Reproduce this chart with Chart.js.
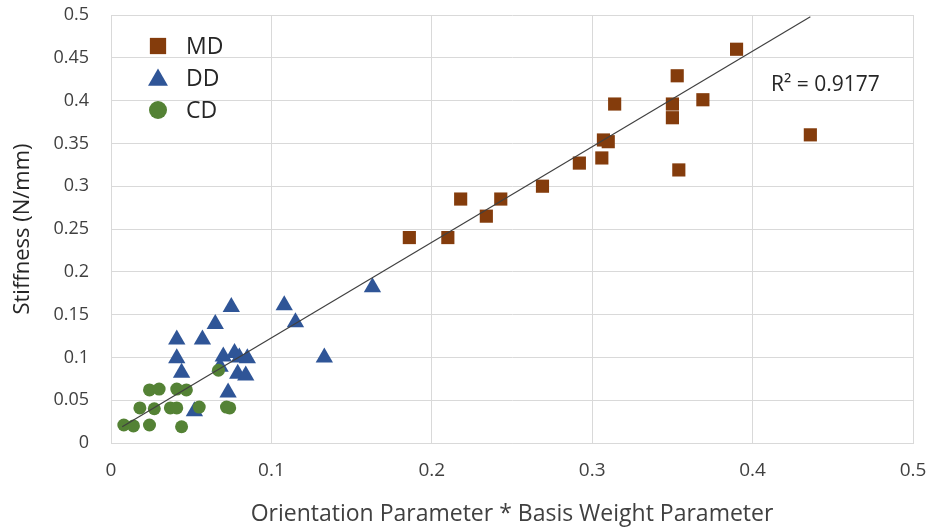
<!DOCTYPE html>
<html>
<head>
<meta charset="utf-8">
<script src="https://cdn.jsdelivr.net/npm/chart.js@4/dist/chart.umd.min.js"></script>
<style>
    html, body { margin: 0; padding: 0; background: #fff; }
    #wrap { width: 935px; height: 529px; position: relative; }
</style>
</head>
<body>
<div id="wrap"><canvas id="stiffnessChart"></canvas></div>
<script>
// Values
const mdX = [0.186, 0.210, 0.218, 0.234, 0.243, 0.269, 0.292, 0.306, 0.307, 0.310, 0.314, 0.350, 0.350, 0.353, 0.369, 0.354, 0.390, 0.436];
const mdY = [0.240, 0.240, 0.285, 0.265, 0.285, 0.300, 0.327, 0.333, 0.354, 0.352, 0.396, 0.396, 0.380, 0.429, 0.401, 0.319, 0.460, 0.360];

const ddX = [0.163, 0.075, 0.108, 0.065, 0.115, 0.041, 0.057, 0.041, 0.070, 0.077, 0.080, 0.085, 0.133, 0.044, 0.079, 0.084, 0.068, 0.073, 0.052];
const ddY = [0.182, 0.159, 0.161, 0.139, 0.141, 0.121, 0.121, 0.099, 0.101, 0.105, 0.100, 0.099, 0.100, 0.082, 0.081, 0.079, 0.089, 0.059, 0.037];

const cdX = [0.067, 0.024, 0.030, 0.041, 0.047, 0.018, 0.027, 0.037, 0.041, 0.055, 0.072, 0.074, 0.008, 0.014, 0.024, 0.044];
const cdY = [0.085, 0.062, 0.063, 0.063, 0.062, 0.041, 0.040, 0.041, 0.041, 0.042, 0.042, 0.041, 0.021, 0.020, 0.021, 0.019];

// linear trendline end points and its label
const trendX = [0.007, 0.436];
const trendY = [0.019, 0.498];
const rSquared = 'R\u00B2 = 0.9177';

const xTicks = [0, 0.1, 0.2, 0.3, 0.4, 0.5];
const yTicks = [0, 0.05, 0.1, 0.15, 0.2, 0.25, 0.3, 0.35, 0.4, 0.45, 0.5];

const FONT = "'Open Sans', sans-serif";
const TEXT = '#404040';
const colors = { md: '#843c0c', dd: '#2f5597', cd: '#548235' };

function toPoints(xs, ys) {
    return xs.map((x, i) => ({ x: x, y: ys[i] }));
}

const series = [
    { label: 'MD', color: colors.md, style: 'rect', radius: 9.3, legendRadius: 11.5 },
    { label: 'DD', color: colors.dd, style: 'triangle', radius: 10, legendRadius: 11.5 },
    { label: 'CD', color: colors.cd, style: 'circle', radius: 6.5, legendRadius: 9 }
];

// legend + R² text drawn inside the plot area
const overlayPlugin = {
    id: 'overlay',
    afterDraw(chart) {
        const ctx = chart.ctx;
        const area = chart.chartArea;
        ctx.save();
        series.forEach((s, i) => {
            const y = area.top + 31 + i * 32;
            ctx.fillStyle = s.color;
            ctx.strokeStyle = s.color;
            Chart.helpers.drawPoint(ctx, { pointStyle: s.style, radius: s.legendRadius, rotation: 0, borderWidth: 0 }, area.left + 47, y + (s.style === 'triangle' ? 2 : 0));
            ctx.fillStyle = '#262626';
            ctx.font = '23px ' + FONT;
            ctx.textBaseline = 'middle';
            ctx.textAlign = 'left';
            ctx.fillText(s.label, area.left + 75, y + 1);
        });
        const xs = chart.scales.x, ys = chart.scales.y;
        ctx.fillStyle = '#262626';
        ctx.font = '21px ' + FONT;
        ctx.textBaseline = 'middle';
        ctx.fillText(rSquared, xs.getPixelForValue(0.4115), ys.getPixelForValue(0.418));
        ctx.restore();
    }
};

const ctx = document.getElementById('stiffnessChart').getContext('2d');
const stiffnessChart = new Chart(ctx, {
    type: 'scatter',
    data: {
        datasets: [
            ...series.map((s, i) => ({
                label: s.label,
                data: toPoints([mdX, ddX, cdX][i], [mdY, ddY, cdY][i]),
                pointStyle: s.style,
                pointRadius: s.radius,
                pointHoverRadius: s.radius,
                backgroundColor: s.color,
                borderColor: s.color,
                borderWidth: 0,
                order: 4 - i
            })),
            {
                label: 'Linear',
                type: 'line',
                data: toPoints(trendX, trendY),
                borderColor: '#404040',
                borderWidth: 1.2,
                pointRadius: 0,
                fill: false,
                order: 1
            }
        ]
    },
    options: {
        responsive: true,
        maintainAspectRatio: false,
        animation: false,
        layout: { padding: { top: 15, right: 22, left: 0, bottom: 0 } },
        plugins: {
            legend: { display: false },
            tooltip: { enabled: false }
        },
        scales: {
            x: {
                type: 'linear',
                min: 0,
                max: 0.5,
                afterBuildTicks: (axis) => { axis.ticks = xTicks.map(v => ({ value: v })); },
                afterFit: (axis) => {
                    axis.height = 529 - 443;
                    axis.paddingLeft = 0;
                    axis.paddingRight = 0;
                },
                grid: { color: '#d9d9d9', lineWidth: 1, drawTicks: false },
                border: { color: '#d9d9d9' },
                ticks: {
                    color: TEXT,
                    font: { family: FONT, size: 19 },
                    padding: 16,
                    callback: (v) => String(v)
                },
                title: {
                    display: true,
                    text: 'Orientation Parameter * Basis Weight Parameter',
                    color: TEXT,
                    font: { family: FONT, size: 23 },
                    padding: { top: 0, bottom: 1 }
                }
            },
            y: {
                type: 'linear',
                min: 0,
                max: 0.5,
                afterBuildTicks: (axis) => { axis.ticks = yTicks.map(v => ({ value: v })); },
                afterFit: (axis) => {
                    axis.width = 111;
                    axis.paddingTop = 0;
                    axis.paddingBottom = 0;
                },
                grid: { color: '#d9d9d9', lineWidth: 1, drawTicks: false },
                border: { color: '#d9d9d9' },
                ticks: {
                    color: TEXT,
                    font: { family: FONT, size: 18 },
                    padding: 22,
                    callback: (v) => String(v)
                },
                title: {
                    display: true,
                    text: 'Stiffness (N/mm)',
                    color: '#262626',
                    font: { family: FONT, size: 22 },
                    padding: { top: 10, bottom: 0 }
                }
            }
        }
    },
    plugins: [overlayPlugin]
});
</script>
</body>
</html>
